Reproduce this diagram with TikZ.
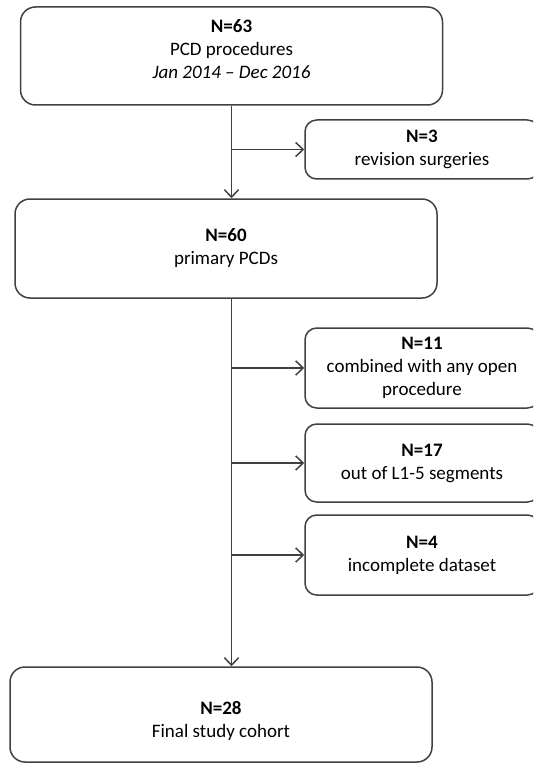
\documentclass[tikz,border=0pt]{standalone}
\usepackage{fontspec}
\setmainfont{Carlito}
\usetikzlibrary{arrows.meta}
\definecolor{linegray}{HTML}{404040}
\tikzset{
  boxtext/.style={align=center, inner sep=0pt, font=\fontsize{11.4}{13.8}\selectfont},
  bigbox/.style={boxtext, draw=linegray, line width=0.9pt, rounded corners=9pt, minimum width=253.2pt},
  sidebox/.style={boxtext, draw=linegray, line width=0.9pt, rounded corners=7pt, minimum width=140.4pt},
  flow/.style={draw=linegray, line width=0.9pt, -{Straight Barb[length=4.5pt,width=8.5pt]}}
}
\begin{document}
\begin{tikzpicture}[x=0.6pt, y=-0.6pt]
  \clip (0,0) rectangle (533,764);
  % main column
  \node[bigbox, minimum height=58.8pt] (total) at (231.5,56)
    {\textbf{N=63}\\PCD procedures\\\textit{Jan 2014 -- Dec 2016}\\[-5.4pt]\mbox{}};
  \node[bigbox, minimum height=59.4pt] (primary) at (226,248.5)
    {\textbf{N=60}\\primary PCDs};
  \node[bigbox, minimum height=57pt] (cohort) at (221,714.5)
    {\mbox{}\\[2pt]\textbf{N=28}\\Final study cohort};
  % excluded cases
  \node[sidebox, minimum height=35.4pt] (revision) at (422,149.5)
    {\textbf{N=3}\\revision surgeries};
  \node[sidebox, minimum height=48pt] (open) at (422,368)
    {\textbf{N=11}\\combined with any open\\procedure};
  \node[sidebox, minimum height=46.8pt] (segments) at (422,463)
    {\textbf{N=17}\\out of L1-5 segments};
  \node[sidebox, minimum height=48pt] (dataset) at (422,555)
    {\textbf{N=4}\\incomplete dataset};
  % connectors
  \draw[flow] (total.south) -- (total.south |- primary.north);
  \draw[flow] (total.south |- revision.west) -- (revision.west);
  \draw[flow] (total.south |- primary.south) -- (total.south |- cohort.north);
  \draw[flow] (total.south |- open.west) -- (open.west);
  \draw[flow] (total.south |- segments.west) -- (segments.west);
  \draw[flow] (total.south |- dataset.west) -- (dataset.west);
\end{tikzpicture}
\end{document}
